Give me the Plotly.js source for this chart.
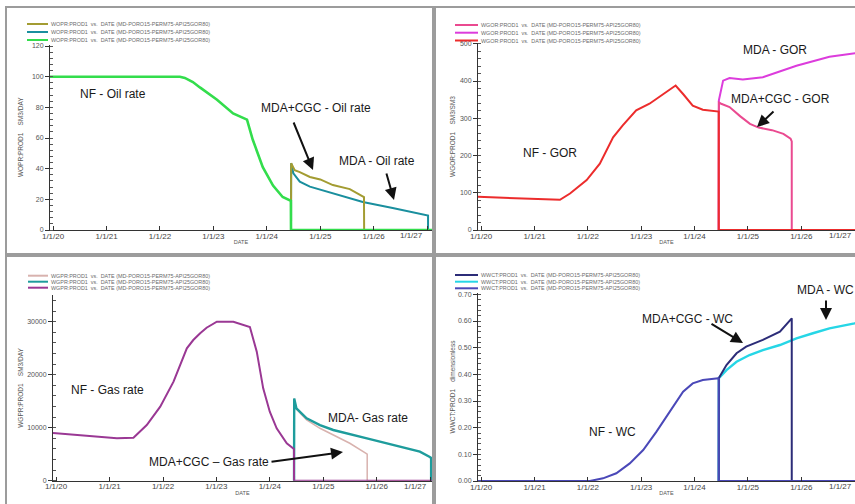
<!DOCTYPE html>
<html><head><meta charset="utf-8">
<script src="https://cdn.plot.ly/plotly-3.0.1.min.js"></script>
<style>html,body{margin:0;padding:0;background:#fff;overflow:hidden}#chart{width:855px;height:504px}</style>
</head><body><div id="chart"></div>
<script>
// ---------------- DATA ----------------
// Oil rate (WOPR), SM3/DAY
const oilNF_x = ['2019-12-11','2021-01-01','2022-01-01','2022-05-17','2022-06-20','2022-08-14','2022-10-01','2023-01-26','2023-05-16','2023-08-19','2023-09-27','2023-10-30','2023-12-05','2024-02-13','2024-04-19','2024-06-14','2024-06-15','2027-02-04'];
const oilNF_y = [100,100,100,100,99.2,96.5,93,85,76,72,59,50,41,29,21.5,19,0,0];
const oilMDA_x = ['2024-06-15','2024-06-16','2024-07-01','2024-08-14','2024-10-22','2025-03-28','2025-10-19','2026-05-11','2027-01-01','2027-01-08','2027-01-08','2027-02-04'];
const oilMDA_y = [0,43.5,37,31.5,28.3,24,18.3,14.3,9.8,9.5,0,0];
const oilCGC_x = ['2024-06-15','2024-06-16','2024-07-10','2024-08-14','2024-10-22','2025-01-01','2025-03-28','2025-07-22','2025-10-27','2025-10-28','2027-02-04'];
const oilCGC_y = [0,43.5,39,37.8,34.6,33,29.3,26.7,21.5,0,0];

// Gas-oil ratio (WGOR), SM3/SM3
const gorNF_x = ['2019-12-11','2020-08-07','2020-12-24','2021-06-24','2021-09-01','2021-12-24','2022-03-24','2022-06-23','2022-08-28','2022-11-28','2023-02-27','2023-05-29','2023-08-25','2023-10-15','2023-12-20','2024-02-27','2024-06-09','2024-06-15','2024-06-15','2027-01-08'];
const gorNF_y = [89,85,82,81,98,134,178,249,281,321,339,365,388,365,334,323,319,318,0,0];
const gorMDA_x = ['2024-06-15','2024-06-16','2024-07-15','2024-08-28','2024-11-27','2025-04-13','2025-11-29','2026-07-13','2027-01-08'];
const gorMDA_y = [0,348,401,408,404,410,441,465,475];
const gorCGC_x = ['2024-06-15','2024-06-16','2024-07-02','2024-08-28','2024-11-10','2025-01-15','2025-03-15','2025-06-15','2025-09-01','2025-10-20','2025-10-28','2025-10-28','2027-01-08'];
const gorCGC_y = [0,342,339,330,305,285,275,268,258,245,238,0,0];

// Gas rate (WGPR), SM3/DAY
const gasNF_x = ['2019-12-11','2020-10-27','2021-02-20','2021-06-13','2021-07-27','2021-09-12','2021-12-13','2022-03-14','2022-06-13','2022-07-27','2022-09-12','2022-10-26','2023-01-04','2023-04-27','2023-08-18','2023-10-04','2023-11-17','2024-01-01','2024-02-17','2024-04-26','2024-06-14','2024-06-15','2027-01-14'];
const gasNF_y = [9000,8300,8000,8100,9250,10500,13960,18680,24980,26540,27800,28860,30000,30000,29000,24340,17430,13020,9890,7060,6000,0,0];
const gasMDA_x = ['2024-06-15','2024-06-16','2024-07-01','2024-09-09','2024-12-09','2025-03-10','2025-10-26','2026-06-09','2026-10-23','2026-12-27','2027-01-08','2027-01-08','2027-01-14'];
const gasMDA_y = [0,15500,13660,11770,10500,9570,8000,6420,5470,4530,4300,0,0];
const gasCGC_x = ['2024-06-15','2024-06-16','2024-07-01','2024-09-09','2024-12-09','2025-03-10','2025-07-01','2025-10-20','2025-10-28','2025-10-28','2027-01-14'];
const gasCGC_y = [0,15500,13500,11450,9890,8620,7060,5170,5000,0,0];

// Water cut (WWCT), dimensionless
const wcNF_x = ['2019-12-11','2022-01-15','2022-04-15','2022-07-15','2022-10-15','2023-01-15','2023-04-16','2023-07-16','2023-10-15','2023-12-20','2024-02-27','2024-06-12','2024-06-15','2024-06-15','2027-01-08'];
const wcNF_y = [0,0,0.01,0.029,0.066,0.116,0.185,0.26,0.335,0.366,0.379,0.385,0.386,0,0];
const wcMDA_x = ['2024-06-15','2024-06-16','2024-08-07','2024-10-15','2025-01-12','2025-04-13','2025-08-08','2025-11-29','2026-03-22','2026-07-13','2027-01-01','2027-01-08'];
const wcMDA_y = [0,0.386,0.416,0.447,0.4725,0.491,0.51,0.535,0.554,0.5725,0.591,0.592];
const wcCGC_x = ['2024-06-15','2024-06-16','2024-08-07','2024-10-15','2024-12-20','2025-04-13','2025-08-08','2025-10-23','2025-10-28','2025-10-28','2027-01-08'];
const wcCGC_y = [0,0.386,0.435,0.479,0.504,0.529,0.56,0.604,0.61,0,0];

// X tick positions and labels
const tickDates = ['2020-01-01','2021-01-01','2022-01-01','2023-01-01','2024-01-01','2025-01-01','2026-01-01','2027-01-01'];
const tickLabels = ['1/1/20','1/1/21','1/1/22','1/1/23','1/1/24','1/1/25','1/1/26','1/1/27'];

// Legend labels (row order: MDA+CGC, MDA, NF)
const oilLegend = ['WOPR:PROD1  vs.  DATE (MD-PORO15-PERM75-API25GOR80)','WOPR:PROD1  vs.  DATE (MD-PORO15-PERM75-API25GOR80)','WOPR:PROD1  vs.  DATE (MD-PORO15-PERM75-API25GOR80)'];
const gorLegend = ['WGOR:PROD1  vs.  DATE (MD-PORO15-PERM75-API25GOR80)','WGOR:PROD1  vs.  DATE (MD-PORO15-PERM75-API25GOR80)','WGOR:PROD1  vs.  DATE (MD-PORO15-PERM75-API25GOR80)'];
const gasLegend = ['WGPR:PROD1  vs.  DATE (MD-PORO15-PERM75-API25GOR80)','WGPR:PROD1  vs.  DATE (MD-PORO15-PERM75-API25GOR80)','WGPR:PROD1  vs.  DATE (MD-PORO15-PERM75-API25GOR80)'];
const wcLegend = ['WWCT:PROD1  vs.  DATE (MD-PORO15-PERM75-API25GOR80)','WWCT:PROD1  vs.  DATE (MD-PORO15-PERM75-API25GOR80)','WWCT:PROD1  vs.  DATE (MD-PORO15-PERM75-API25GOR80)'];

// Axis titles
const yTitles = ['WOPR:PROD1    SM3/DAY','WGOR:PROD1    SM3/SM3','WGPR:PROD1    SM3/DAY','WWCT:PROD1    dimensionless'];

// Labels on the chart
const labels = {
  oil: ['NF - Oil rate','MDA+CGC - Oil rate','MDA - Oil rate'],
  gor: ['MDA - GOR','MDA+CGC - GOR','NF - GOR'],
  gas: ['NF - Gas rate','MDA- Gas rate','MDA+CGC \u2013 Gas rate'],
  wc:  ['MDA - WC','MDA+CGC - WC','NF - WC']
};

// ---------------- STYLE / LAYOUT ----------------
const W = 855, H = 504;
const px = x => x / W;
const py = y => 1 - y / H;
const FONT = 'Liberation Sans, Arial, sans-serif';
const NB = n => '&nbsp;'.repeat(n);
const LAST = tickLabels.length - 1;

const C = {
  oil: ['#a39c32', '#1a8f9e', '#33dd4c'],
  gor: ['#ea4a90', '#dc3cdc', '#ec2c2c'],
  gas: ['#d8b2ae', '#1e9c9c', '#9a3894'],
  wc:  ['#2c2c78', '#26d6e6', '#4a48b8']
};

function tr(x, y, color, xa, ya, w) {
  return {type:'scatter', mode:'lines', x:x, y:y, xaxis:xa, yaxis:ya,
    line:{color:color, width:w || 2}, showlegend:false, hoverinfo:'skip'};
}

const data = [
  tr(oilMDA_x, oilMDA_y, C.oil[1], 'x', 'y'),
  tr(oilCGC_x, oilCGC_y, C.oil[0], 'x', 'y'),
  tr(oilNF_x, oilNF_y, C.oil[2], 'x', 'y', 2.6),
  tr(gorMDA_x, gorMDA_y, C.gor[1], 'x2', 'y2'),
  tr(gorCGC_x, gorCGC_y, C.gor[0], 'x2', 'y2'),
  tr(gorNF_x, gorNF_y, C.gor[2], 'x2', 'y2'),
  tr(gasCGC_x, gasCGC_y, C.gas[0], 'x3', 'y3', 1.5),
  tr(gasMDA_x, gasMDA_y, C.gas[1], 'x3', 'y3', 2.4),
  tr(gasNF_x, gasNF_y, C.gas[2], 'x3', 'y3'),
  tr(wcMDA_x, wcMDA_y, C.wc[1], 'x4', 'y4', 2.4),
  tr(wcCGC_x, wcCGC_y, C.wc[0], 'x4', 'y4'),
  tr(wcNF_x, wcNF_y, C.wc[2], 'x4', 'y4')
];

// the last year label is drawn pulled inside the panel (see annotations below)
const axisTickText = tickLabels.map((t, i) => i === LAST ? '' : t);
function xax(domain, range, anchor) {
  return {type:'date', domain:domain, range:range, anchor:anchor,
    showgrid:false, zeroline:false, showline:true, linecolor:'#333', linewidth:1,
    ticks:'inside', ticklen:4, tickcolor:'#333', tickmode:'array', tickvals:tickDates, ticktext:axisTickText,
    tickfont:{family:FONT, size:8, color:'#444'}, ticklabelstandoff:-2,
    ticklabeloverflow:'allow',
    title:{text:'DATE', font:{family:FONT, size:5.5, color:'#555'}, standoff:0},
    fixedrange:true};
}
function yax(domain, range, anchor, dtick, minor, fmt, title, standoff) {
  return {domain:domain, range:range, anchor:anchor, tickmode:'linear', dtick:dtick, tick0:0,
    tickformat:fmt, showgrid:false, zeroline:false, showline:true, linecolor:'#333', linewidth:1,
    ticks:'outside', ticklen:4, tickcolor:'#333', ticklabeloverflow:'allow',
    minor:{ticks:'inside', ticklen:3, dtick:minor, tick0:0, tickcolor:'#555', showgrid:false},
    tickfont:{family:FONT, size:7, color:'#555'},
    title:{text:title.replace(/ {2,}/g, m => NB(m.length)), font:{family:FONT, size:6.5, color:'#555'}, standoff:standoff},
    fixedrange:true};
}

const layout = {
  width:W, height:H, margin:{l:0, r:0, t:0, b:0},
  paper_bgcolor:'#fff', plot_bgcolor:'#fff', showlegend:false,
  xaxis:  xax([px(50), px(432)], ['2019-12-11','2027-02-04'], 'y'),
  xaxis2: xax([px(478), 1], ['2019-12-11','2027-01-04'], 'y2'),
  xaxis3: xax([px(53), px(432)], ['2019-12-11','2027-01-14'], 'y3'),
  xaxis4: xax([px(478), 1], ['2019-12-11','2027-01-04'], 'y4'),
  yaxis:  yax([py(230), py(44.5)], [0,121], 'x', 20, 4, 'd', yTitles[0], 7),
  yaxis2: yax([py(230), py(43)], [0,502], 'x2', 100, 20, 'd', yTitles[1], 3),
  yaxis3: yax([py(480.7), py(295.2)], [0,35000], 'x3', 10000, 2000, 'd', yTitles[2], 2),
  yaxis4: yax([py(481), py(293)], [0,0.705], 'x4', 0.1, 0.02, '.2f', yTitles[3], 1),
  shapes: [], annotations: []
};

// panel frames
[[6,7,433,254],[435,7,858,254],[6,256,433,507],[435,256,858,507]].forEach(r => {
  layout.shapes.push({type:'rect', xref:'paper', yref:'paper', x0:px(r[0]), x1:px(r[2]), y0:py(r[1]), y1:py(r[3]),
    line:{color:'#9c9c9c', width:2}, fillcolor:'rgba(0,0,0,0)'});
});

// last year label of each panel, nudged inside the panel
[[411, 235.5, 'center'], [854, 235.5, 'right'], [415, 486.2, 'center'], [854, 486.5, 'right']].forEach(p => {
  layout.annotations.push({xref:'paper', yref:'paper', x:px(p[0]), y:py(p[1]), xanchor:p[2], yanchor:'middle',
    text:tickLabels[LAST], showarrow:false, font:{family:FONT, size:8, color:'#444'}});
});

// legends
function legend(names, colors, x0, x1, ys) {
  names.forEach((n, i) => {
    layout.shapes.push({type:'line', xref:'paper', yref:'paper', x0:px(x0), x1:px(x1), y0:py(ys[i]), y1:py(ys[i]),
      line:{color:colors[i], width:2}});
    layout.annotations.push({xref:'paper', yref:'paper', x:px(x1+1), y:py(ys[i]), xanchor:'left', yanchor:'middle',
      text:n.replace(/ {2,}/g, m => NB(m.length)), showarrow:false,
      font:{family:FONT, size:5.4, color:'#6a6a6a'}});
  });
}
legend(oilLegend, C.oil, 27, 48, [24, 32, 40]);
legend(gorLegend, C.gor, 455, 478, [25, 32.7, 40.5]);
legend(gasLegend, C.gas, 28, 48, [275.7, 281.7, 287.7]);
legend(wcLegend, C.wc, 455, 478, [275, 281.7, 288.3]);

// text labels
function label(t, x, y) {
  layout.annotations.push({xref:'paper', yref:'paper', x:px(x), y:py(y), xanchor:'center', yanchor:'middle',
    text:t, showarrow:false, font:{family:FONT, size:12, color:'#1a1a1a'}});
}
function arrow(tx, ty, hx, hy) {
  layout.annotations.push({xref:'paper', yref:'paper', x:px(hx), y:py(hy), ax:tx-hx, ay:ty-hy,
    axref:'pixel', ayref:'pixel', text:'', showarrow:true, arrowhead:2, arrowsize:1.2, arrowwidth:2,
    arrowcolor:'#111', standoff:0, startstandoff:0});
}
label(labels.oil[0], 113, 94);
label(labels.oil[1], 316, 108);
label(labels.oil[2], 377, 161);
arrow(293, 121, 313, 170);
arrow(386, 172, 394, 200);

label(labels.gor[0], 775, 50);
label(labels.gor[1], 780, 99);
label(labels.gor[2], 550, 153);
arrow(775, 110, 757, 127);

label(labels.gas[0], 107, 390);
label(labels.gas[1], 368, 418);
label(labels.gas[2], 209, 462);
arrow(270, 462, 343, 452);

label(labels.wc[0], 825, 290);
label(labels.wc[1], 687, 319);
label(labels.wc[2], 612, 432);
arrow(826, 299, 826, 320);
arrow(710, 323, 743, 343);

Plotly.newPlot('chart', data, layout, {staticPlot:true, displayModeBar:false});
</script>
</body></html>
